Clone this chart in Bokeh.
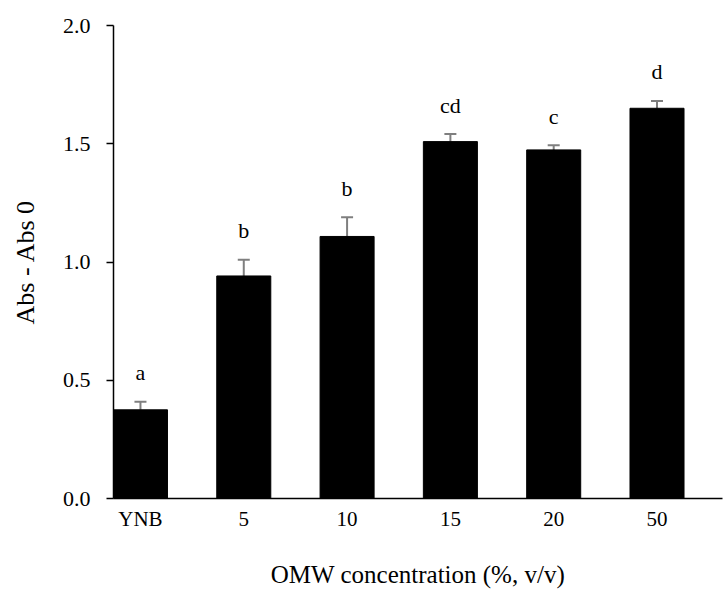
from bokeh.plotting import figure
from bokeh.models import ColumnDataSource, FixedTicker, Whisker, TeeHead
from bokeh.core.properties import value
from bokeh.embed import file_html
from bokeh.resources import INLINE

categories = ["YNB", "5", "10", "15", "20", "50"]
means = [0.375, 0.941, 1.108, 1.509, 1.474, 1.650]
errors = [0.034, 0.069, 0.081, 0.032, 0.020, 0.031]
letters = ["a", "b", "b", "cd", "c", "d"]
y_ticks = [0.0, 0.5, 1.0, 1.5, 2.0]

xs = list(range(len(categories)))
src = ColumnDataSource(dict(
    x=xs, top=means,
    upper=[m + e for m, e in zip(means, errors)],
    letter=letters,
))

FONT = "Liberation Serif"

p = figure(width=724, height=590, output_backend="svg", toolbar_location=None,
           x_range=(-0.261, 5.634), y_range=(0, 2.0),
           min_border_left=113, min_border_right=2, min_border_top=25,
           min_border_bottom=92)
p.outline_line_color = None
p.xgrid.grid_line_color = None
p.ygrid.grid_line_color = None

p.vbar(x="x", top="top", width=0.523, bottom=0, source=src,
       fill_color="black", line_color="black")

w = Whisker(base="x", lower="top", upper="upper", source=src,
            line_color="#7f7f7f", line_width=2,
            upper_head=TeeHead(size=12, line_color="#7f7f7f", line_width=2),
            lower_head=None)
p.add_layout(w)

p.text(x="x", y="upper", text="letter", source=src, text_align="center",
       text_baseline="alphabetic", y_offset=-29, text_font=value(FONT),
       text_font_size="22px", text_color="black")

# x axis
p.xaxis.ticker = FixedTicker(ticks=xs)
p.xaxis.major_label_overrides = {i: c for i, c in enumerate(categories)}
p.xaxis.major_tick_out = 0
p.xaxis.major_tick_in = 0
p.xaxis.minor_tick_line_color = None
p.xaxis.axis_line_color = "black"
p.xaxis.axis_line_width = 1.5
p.xaxis.major_label_text_font = FONT
p.xaxis.major_label_text_font_size = "21px"
p.xaxis.major_label_text_color = "black"
p.xaxis.major_label_standoff = 8
p.xaxis.axis_label = "OMW concentration (%, v/v)"
p.xaxis.axis_label_text_font = FONT
p.xaxis.axis_label_text_font_style = "normal"
p.xaxis.axis_label_text_font_size = "25px"
p.xaxis.axis_label_text_color = "black"
p.xaxis.axis_label_standoff = 27

# y axis
p.yaxis.ticker = FixedTicker(ticks=y_ticks)
p.yaxis.major_label_overrides = {t: f"{t:.1f}" for t in y_ticks}
p.yaxis.major_tick_out = 7
p.yaxis.major_tick_in = 0
p.yaxis.major_tick_line_width = 1.5
p.yaxis.minor_tick_line_color = None
p.yaxis.axis_line_color = "black"
p.yaxis.axis_line_width = 1.5
p.yaxis.major_label_text_font = FONT
p.yaxis.major_label_text_font_size = "22px"
p.yaxis.major_label_text_color = "black"
p.yaxis.major_label_standoff = 16
p.yaxis.axis_label = "Abs - Abs 0"
p.yaxis.axis_label_text_font = FONT
p.yaxis.axis_label_text_font_style = "normal"
p.yaxis.axis_label_text_font_size = "26px"
p.yaxis.axis_label_text_color = "black"
p.yaxis.axis_label_standoff = 20

open("out.html", "w").write(file_html(p, INLINE))
